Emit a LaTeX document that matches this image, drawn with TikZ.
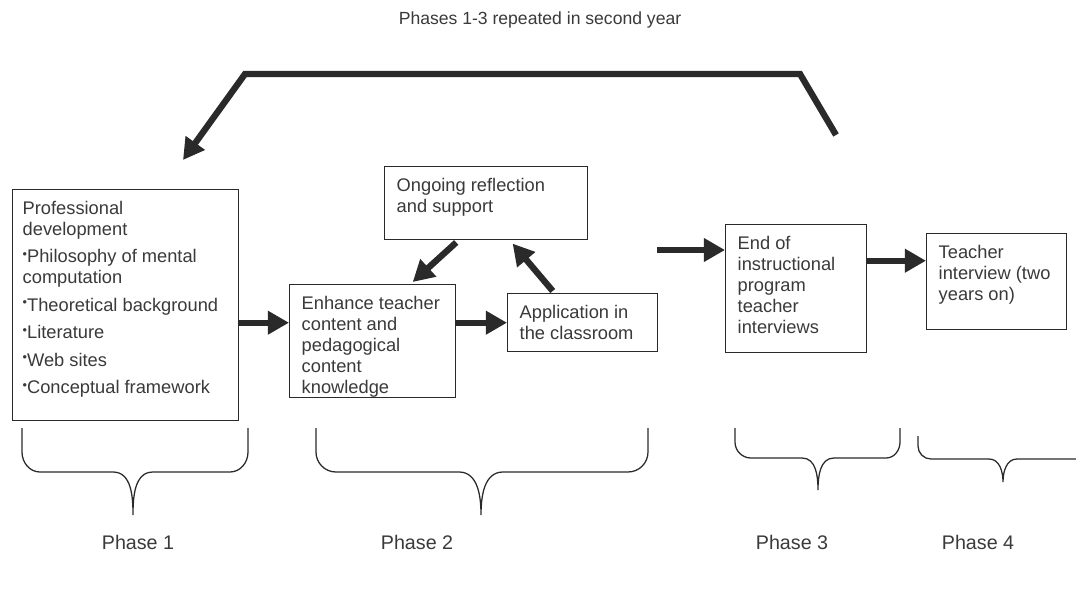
\documentclass[tikz,border=0pt]{standalone}
\usepackage{fontspec}
\setmainfont{Liberation Sans}
\usetikzlibrary{arrows.meta}

\definecolor{inkc}{HTML}{2A2A2A}
\definecolor{textc}{HTML}{3A3A3A}
\newcommand{\pbul}{\raisebox{0.45ex}{\fontsize{9}{9}\selectfont\textbullet}}

\tikzset{
  box/.style={draw=inkc,line width=1pt,fill=white,anchor=north west,inner xsep=0.3cm,inner ysep=0.28cm,text=textc,font=\fontsize{13}{15}\selectfont},
  arr/.style={draw=inkc,line width=4.5pt,-{Triangle[length=15pt,width=16pt]}},
  phasebrace/.style={draw=inkc,line width=0.9pt},
  phaselabel/.style={text=textc,font=\fontsize{14}{16}\selectfont}
}

\begin{document}
\begin{tikzpicture}[x=0.025cm,y=-0.025cm]
  \useasboundingbox[fill=white] (0,0) rectangle (1076,611);

  \node[text=textc,font=\fontsize{12.5}{14}\selectfont] (rep) at (540,20) {Phases 1-3 repeated in second year};

  \node[box,inner xsep=0.25cm] (pd) at (12,189) {\parbox[t][5.215cm][t]{5.15cm}{\raggedright
    Professional\\development\par\vspace{4.5pt}
    \pbul Philosophy of mental\\computation\par\vspace{4.5pt}
    \pbul Theoretical background\par\vspace{4.5pt}
    \pbul Literature\par\vspace{4.5pt}
    \pbul Web sites\par\vspace{4.5pt}
    \pbul Conceptual framework}};
  \node[box] (ong) at (384,166) {\parbox[t][1.265cm][t]{4.475cm}{\raggedright Ongoing reflection\\and support}};
  \node[box] (enh) at (289,284) {\parbox[t][2.265cm][t]{3.55cm}{\raggedright Enhance teacher\\content and\\pedagogical\\content\\knowledge}};
  \node[box] (app) at (507,293) {\parbox[t][0.89cm][t]{3.15cm}{\raggedright Application in\\the classroom}};
  \node[box] (endb) at (725,224) {\parbox[t][2.64cm][t]{2.925cm}{\raggedright End of\\instructional\\program\\teacher\\interviews}};
  \node[box] (tin) at (926,233) {\parbox[t][1.84cm][t]{2.9cm}{\raggedright Teacher\\interview (two\\years on)}};

  % arrows between the boxes
  \draw[arr] (pd.east |- app.west) -- (enh.west |- app.west);
  \draw[arr] (enh.east |- app.west) -- (app.west);
  \draw[arr] ([xshift=-0.75cm,yshift=-0.05cm]ong.south) -- ([xshift=1.0cm,yshift=0.05cm]enh.north);
  \draw[arr] ([xshift=-0.75cm,yshift=0.05cm]app.north) -- ([xshift=0.66cm,yshift=-0.08cm]ong.south);
  \coordinate (p23) at (657,250);
  \draw[arr] (p23) -- (p23 -| endb.west);
  \coordinate (e34) at ([yshift=0.7cm]endb.east);
  \draw[arr] (e34) -- (e34 -| tin.west);

  % loop back for the second year
  \coordinate (rs) at (836,135);
  \coordinate (rt) at (183,160);
  \draw[arr] (rs) -- (800,74) -- (245,74) -- (rt);

  % phase braces
  \draw[phasebrace] (22,428) -- (22,452) to[out=-90,in=180] (40,472) -- (113,472) to[out=0,in=90] (133,515) to[out=90,in=180] (153,472) -- (230,472) to[out=0,in=-90] (248,452) -- (248,428);
  \draw[phasebrace] (316,428) -- (316,452) to[out=-90,in=180] (336,472) -- (459,472) to[out=0,in=90] (481,515) to[out=90,in=180] (503,472) -- (628,472) to[out=0,in=-90] (648,452) -- (648,428);
  \draw[phasebrace] (735,428) -- (735,442) to[out=-90,in=180] (751,458) -- (802,458) to[out=0,in=90] (818,490) to[out=90,in=180] (834,458) -- (886,458) to[out=0,in=-90] (900,442) -- (900,428);
  \draw[phasebrace] (918,436) -- (918,446) to[out=-90,in=180] (931,459) -- (989,459) to[out=0,in=90] (1003,482) to[out=90,in=180] (1017,459) -- (1076,459);

  \node[phaselabel] (ph1) at (138,542) {Phase 1};
  \node[phaselabel] (ph2) at (417,542) {Phase 2};
  \node[phaselabel] (ph3) at (792,542) {Phase 3};
  \node[phaselabel] (ph4) at (978,542) {Phase 4};
\end{tikzpicture}
\end{document}
